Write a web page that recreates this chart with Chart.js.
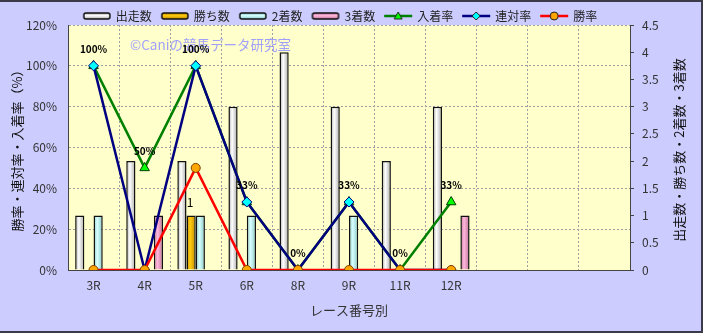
<!DOCTYPE html>
<html>
<head>
<meta charset="utf-8">
<script src="https://cdn.jsdelivr.net/npm/chart.js@4.4.0/dist/chart.umd.min.js"></script>
<style>
html, body { margin: 0; padding: 0; background: #CCCCFF; }
canvas { display: block; }
</style>
</head>
<body>
<canvas id="raceChart" width="703" height="333"></canvas>
<script>
// data
const races = ['3R', '4R', '5R', '6R', '8R', '9R', '11R', '12R', '', '', ''];
const runs = [1, 2, 2, 3, 4, 3, 2, 3];
const wins = [0, 0, 1, 0, 0, 0, 0, 0];
const seconds = [1, 0, 1, 1, 0, 1, 0, 0];
const thirds = [0, 1, 0, 0, 0, 0, 0, 1];
const placeRate = [100, 50, 100, 33.3, 0, 33.3, 0, 33.3];
const rentaiRate = [100, 0, 100, 33.3, 0, 33.3, 0, 0];
const winRate = [0, 0, 50, 0, 0, 0, 0, 0];

const JP = "'Noto Sans CJK JP', 'DejaVu Sans', sans-serif";
Chart.defaults.font.family = JP;
Chart.defaults.font.size = 12;
Chart.defaults.color = '#333';

// bar colours: [edge, middle]
const barShades = {
    runs: ['#A8A8A8', '#FFFFFF'],
    wins: ['#C08C00', '#FFCC10'],
    seconds: ['#88C8C8', '#D8FFFF'],
    thirds: ['#C07098', '#FFB8DC']
};

function barFill(shade) {
    return ctx => {
        const el = ctx.element;
        if (!el || el.x === undefined || !el.width) return shade[1];
        const g = ctx.chart.ctx.createLinearGradient(el.x - el.width / 2, 0, el.x + el.width / 2, 0);
        g.addColorStop(0, shade[0]);
        g.addColorStop(0.4, shade[1]);
        g.addColorStop(1, shade[0]);
        return g;
    };
}

// little pictures for the legend (box or line + marker)
function legendImg(kind, shade, stroke, marker) {
    const c = document.createElement('canvas');
    c.width = 30; c.height = 12;
    const g = c.getContext('2d');
    if (kind === 'bar') {
        const gr = g.createLinearGradient(0, 3, 0, 9);
        gr.addColorStop(0, shade[0]);
        gr.addColorStop(0.45, shade[1]);
        gr.addColorStop(1, shade[0]);
        g.fillStyle = gr;
        g.strokeStyle = '#111';
        g.lineWidth = 1.5;
        g.beginPath();
        g.roundRect(2, 3, 26, 6, 2);
        g.fill();
        g.stroke();
    } else {
        g.strokeStyle = stroke;
        g.lineWidth = 2.5;
        g.beginPath();
        g.moveTo(1, 6); g.lineTo(29, 6);
        g.stroke();
        g.fillStyle = shade;
        g.strokeStyle = '#222';
        g.lineWidth = 1;
        g.beginPath();
        if (marker === 'triangle') {
            g.moveTo(15, 2); g.lineTo(19, 9); g.lineTo(11, 9); g.closePath();
        } else if (marker === 'rectRot') {
            g.moveTo(15, 2); g.lineTo(19, 6); g.lineTo(15, 10); g.lineTo(11, 6); g.closePath();
        } else {
            g.arc(15, 6, 4, 0, Math.PI * 2);
        }
        g.fill();
        g.stroke();
    }
    return c;
}

const legendItems = [
    ['出走数', legendImg('bar', barShades.runs)],
    ['勝ち数', legendImg('bar', barShades.wins)],
    ['2着数', legendImg('bar', barShades.seconds)],
    ['3着数', legendImg('bar', barShades.thirds)],
    ['入着率', legendImg('line', '#00FF00', '#008000', 'triangle')],
    ['連対率', legendImg('line', '#00FFFF', '#000080', 'rectRot')],
    ['勝率', legendImg('line', '#FFA500', '#FF0000', 'circle')]
];

const barBorder = ctx => ctx.raw ? 1.5 : 0;

const chartDecor = {
    id: 'chartDecor',
    beforeInit(chart) {
        const fit = chart.legend.fit;
        chart.legend.fit = function () {
            fit.call(this);
            this.height = 25;
        };
    },
    afterLayout(chart) {
        // legend sits a little left of centre in the original
        chart.legend.left -= 11;
        chart.legend.right -= 11;
    },
    beforeDraw(chart) {
        const { ctx, chartArea: a } = chart;
        ctx.save();
        ctx.fillStyle = '#CCCCFF';
        ctx.fillRect(0, 0, chart.width, chart.height);
        ctx.fillStyle = '#FFFFCC';
        ctx.fillRect(a.left, a.top, a.right - a.left, a.bottom - a.top);
        ctx.restore();
    },
    beforeDatasetsDraw(chart) {
        const ctx = chart.ctx;
        ctx.save();
        ctx.font = '13.5px ' + JP;
        ctx.fillStyle = 'rgba(150, 150, 255, 0.9)';
        ctx.textBaseline = 'middle';
        ctx.fillText('©Caniの競馬データ研究室', 130, 45);
        ctx.restore();
    },
    afterDatasetsDraw(chart) {
        const ctx = chart.ctx;
        ctx.save();
        ctx.font = 'bold 10px ' + JP;
        ctx.fillStyle = '#000';
        ctx.textAlign = 'center';
        ctx.textBaseline = 'middle';
        chart.getDatasetMeta(4).data.forEach((pt, i) => {
            ctx.fillText(Math.round(placeRate[i]) + '%', pt.x, pt.y - 17);
        });
        ctx.font = '12px ' + JP;
        chart.getDatasetMeta(1).data.forEach((bar, i) => {
            if (wins[i]) ctx.fillText(String(wins[i]), bar.x - 1, bar.y - 13);
        });
        ctx.restore();
    },
    afterDraw(chart) {
        const ctx = chart.ctx;
        ctx.save();
        // right axis title, reads bottom to top
        ctx.translate(679, 150);
        ctx.rotate(-Math.PI / 2);
        ctx.font = '13px ' + JP;
        ctx.fillStyle = '#111';
        ctx.textAlign = 'center';
        ctx.textBaseline = 'middle';
        ctx.fillText('出走数・勝ち数・2着数・3着数', 0, 0);
        ctx.restore();
        // frame
        ctx.save();
        ctx.strokeStyle = '#3A3A48';
        ctx.lineWidth = 2;
        ctx.beginPath();
        ctx.moveTo(0, 1); ctx.lineTo(702, 1); ctx.lineTo(702, 332); ctx.lineTo(0, 332);
        ctx.stroke();
        ctx.restore();
    }
};

const chart = new Chart(document.getElementById('raceChart').getContext('2d'), {
    type: 'bar',
    data: {
        labels: races,
        datasets: [
            { label: '出走数', data: runs, yAxisID: 'y1', order: 3, backgroundColor: barFill(barShades.runs), borderColor: '#111', borderWidth: barBorder },
            { label: '勝ち数', data: wins, yAxisID: 'y1', order: 3, backgroundColor: barFill(barShades.wins), borderColor: '#111', borderWidth: barBorder },
            { label: '2着数', data: seconds, yAxisID: 'y1', order: 3, backgroundColor: barFill(barShades.seconds), borderColor: '#111', borderWidth: barBorder },
            { label: '3着数', data: thirds, yAxisID: 'y1', order: 3, backgroundColor: barFill(barShades.thirds), borderColor: '#111', borderWidth: barBorder },
            { type: 'line', label: '入着率', data: placeRate, yAxisID: 'y', order: 2, borderColor: '#008000', borderWidth: 2.5,
              pointStyle: 'triangle', pointRadius: 5.5, pointBackgroundColor: '#00FF00', pointBorderColor: '#004000', pointBorderWidth: 1 },
            { type: 'line', label: '連対率', data: rentaiRate, yAxisID: 'y', order: 1, borderColor: '#000080', borderWidth: 2.5,
              pointStyle: 'rectRot', pointRadius: 5, pointBackgroundColor: '#00FFFF', pointBorderColor: '#000080', pointBorderWidth: 1 },
            { type: 'line', label: '勝率', data: winRate, yAxisID: 'y', order: 0, borderColor: '#FF0000', borderWidth: 2.5,
              pointStyle: 'circle', pointRadius: 4.5, pointBackgroundColor: '#FFA500', pointBorderColor: '#804000', pointBorderWidth: 1 }
        ]
    },
    options: {
        responsive: false,
        animation: false,
        categoryPercentage: 0.72,
        barPercentage: 1.0,
        layout: { padding: 0 },
        plugins: {
            tooltip: { enabled: false },
            legend: {
                position: 'top',
                labels: {
                    usePointStyle: true,
                    pointStyleWidth: 26,
                    padding: 10,
                    color: '#222',
                    font: { size: 12 },
                    generateLabels: () => legendItems.map(([text, img]) => ({
                        text, pointStyle: img, fillStyle: 'transparent', strokeStyle: 'transparent', lineWidth: 0, fontColor: '#222'
                    }))
                }
            }
        },
        scales: {
            x: {
                afterFit: s => { s.height = 63; },
                grid: { display: true, offset: true, color: '#A0A0A0', drawTicks: false },
                border: { display: true, color: '#444', dash: [2, 2] },
                ticks: { padding: 8, color: '#333', font: { size: 12 } },
                title: { display: true, text: 'レース番号別', color: '#333', font: { size: 13 }, padding: { bottom: 15 } }
            },
            y: {
                position: 'left',
                min: 0, max: 120,
                afterFit: s => { s.width = 68; },
                grid: { color: '#A0A0A0', drawTicks: false },
                border: { display: true, color: '#444', dash: [2, 2] },
                ticks: { stepSize: 20, padding: 11, color: '#333', callback: v => v + '%' },
                title: { display: true, text: '勝率・連対率・入着率（%）', color: '#111', font: { size: 13 }, padding: { top: 9 } }
            },
            y1: {
                position: 'right',
                min: 0, max: 4.5,
                afterFit: s => { s.width = 73; },
                grid: { drawOnChartArea: false, drawTicks: true, tickLength: 4, color: '#444' },
                border: { display: true, color: '#444' },
                ticks: { stepSize: 0.5, padding: 8, color: '#333', callback: v => String(v) }
            }
        }
    },
    plugins: [chartDecor]
});
// second pass so the bar gradients can use the laid-out bar positions
chart.update();
</script>
</body>
</html>
